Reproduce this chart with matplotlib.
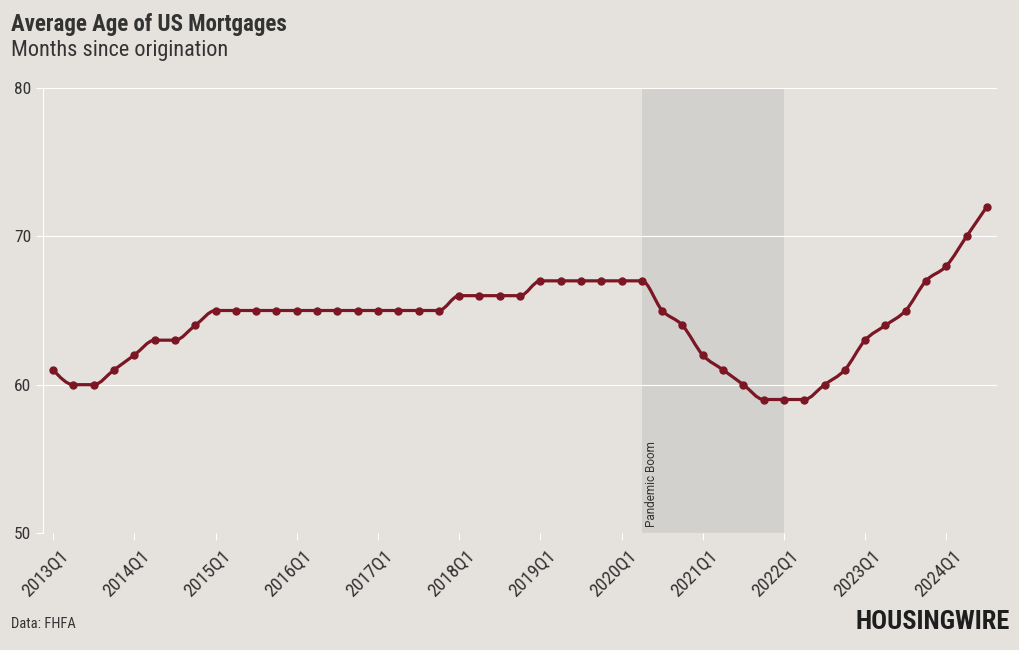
import numpy as np
import matplotlib
import matplotlib.pyplot as plt
import matplotlib.transforms as mtransforms
from matplotlib.path import Path
from matplotlib.patches import PathPatch
from matplotlib import font_manager

# condensed-looking font if available
names = {f.name for f in font_manager.fontManager.ttflist}
cond = 'Roboto'
for nm in ['Roboto Condensed', 'Liberation Sans Narrow']:
    if nm in names:
        cond = nm
        break
matplotlib.rcParams['font.family'] = [cond, 'DejaVu Sans']

# data
quarters = [f'{y}Q{q}' for y in range(2013, 2025) for q in range(1, 5)][:47]
avg_age = [61, 60, 60, 61,
           62, 63, 63, 64,
           65, 65, 65, 65,
           65, 65, 65, 65,
           65, 65, 65, 65,
           66, 66, 66, 66,
           67, 67, 67, 67,
           67, 67, 65, 64,
           62, 61, 60, 59,
           59, 59, 60, 61,
           63, 64, 65, 67,
           68, 70, 72]
boom_start = '2020Q2'
boom_end = '2022Q1'
y_ticks = [50, 60, 70, 80]

bg = '#e5e2de'
line_col = '#7b1624'
text_col = '#333333'


# monotone cubic (like d3 curveMonotoneX) built as bezier path
def monotone_path(x, y):
    x = np.asarray(x, float)
    y = np.asarray(y, float)
    n = len(x)
    h = np.diff(x)
    s = np.diff(y) / h
    t = np.zeros(n)
    for i in range(1, n - 1):
        p = (s[i - 1] * h[i] + s[i] * h[i - 1]) / (h[i - 1] + h[i])
        t[i] = (np.sign(s[i - 1]) + np.sign(s[i])) * min(abs(s[i - 1]), abs(s[i]), 0.5 * abs(p))
    t[0] = (3 * s[0] - t[1]) / 2
    t[-1] = (3 * s[-1] - t[-2]) / 2
    verts = [(x[0], y[0])]
    codes = [Path.MOVETO]
    for i in range(n - 1):
        dx = h[i] / 3
        verts += [(x[i] + dx, y[i] + t[i] * dx), (x[i + 1] - dx, y[i + 1] - t[i + 1] * dx), (x[i + 1], y[i + 1])]
        codes += [Path.CURVE4] * 3
    return Path(verts, codes)


xs = np.arange(len(avg_age))

fig = plt.figure(figsize=(10.2, 6.5), dpi=100, facecolor=bg)
ax = fig.add_axes([0.0422, 0.18, 0.9353, 0.6846], facecolor=bg)

ax.set_xlim(-0.5, len(avg_age) - 0.5)
ax.set_ylim(50, 80)

# shaded period
i0, i1 = quarters.index(boom_start), quarters.index(boom_end)
ax.axvspan(i0, i1, color='#d3d1ce', lw=0, zorder=0)
ax.text(i0 + 0.15, 50.4, 'Pandemic Boom', rotation=90, ha='left', va='bottom',
        fontsize=8.5, color=text_col, family=['Roboto', 'DejaVu Sans'])

for v in y_ticks:
    ax.axhline(v, color='white', lw=0.8, zorder=1)

ax.add_patch(PathPatch(monotone_path(xs, avg_age), fc='none', ec=line_col, lw=2.3, zorder=3))
ax.plot(xs, avg_age, ls='none', marker='o', ms=5, color=line_col, zorder=4)

ax.set_yticks(y_ticks)
ax.set_xticks(xs[::4])
ax.set_xticklabels(quarters[::4], rotation=45, ha='right', rotation_mode='anchor')
ax.tick_params(axis='both', colors='white', labelcolor=text_col, labelsize=13.5, length=5, width=0.8)
ax.tick_params(axis='x', pad=4)
ax.tick_params(axis='y', labelsize=12.5)

# nudge the rotated labels right so they end past the tick
shift = mtransforms.ScaledTranslation(0.06, -0.01, fig.dpi_scale_trans)
for lab in ax.get_xticklabels():
    lab.set_transform(lab.get_transform() + shift)

for sp in ['top', 'right', 'bottom']:
    ax.spines[sp].set_visible(False)
ax.spines['left'].set_color('white')
ax.spines['left'].set_linewidth(0.8)

fig.text(0.011, 0.963, 'Average Age of US Mortgages', fontsize=16.5, fontweight='bold',
         color=text_col, va='center')
fig.text(0.011, 0.923, 'Months since origination', fontsize=16, color=text_col, va='center')
fig.text(0.011, 0.04, 'Data: FHFA', fontsize=10.5, color=text_col, va='center')
fig.text(0.99, 0.043, 'HOUSINGWIRE', fontsize=19, fontweight='heavy', color='#1e1e1e',
         ha='right', va='center')

fig.savefig('out.png', dpi=100, facecolor=bg)
